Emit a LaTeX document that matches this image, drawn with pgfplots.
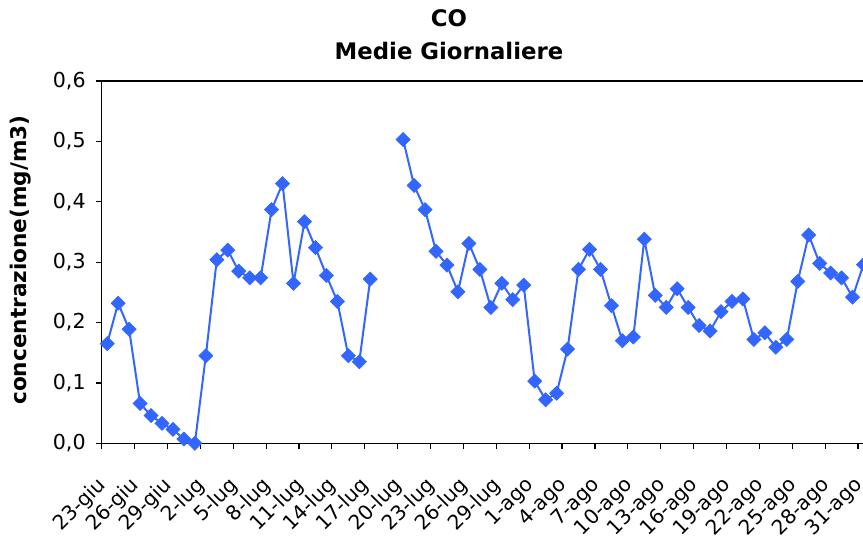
\documentclass[border=0pt]{standalone}
\usepackage{fontspec}
\setmainfont{DejaVu Sans}
\usepackage{pgfplots}
\pgfplotsset{compat=1.18}
\usepackage{pgfplotstable}
\definecolor{serie}{RGB}{51,102,255}

\pgfplotstableread{
idx val
0 0.165
1 0.232
2 0.189
3 0.066
4 0.046
5 0.033
6 0.023
7 0.007
8 0.000
9 0.145
10 0.304
11 0.320
12 0.285
13 0.274
14 0.274
15 0.387
16 0.430
17 0.265
18 0.367
19 0.324
20 0.278
21 0.235
22 0.145
23 0.135
24 0.272
25 nan
26 nan
27 0.503
28 0.427
29 0.387
30 0.318
31 0.295
32 0.251
33 0.331
34 0.288
35 0.225
36 0.265
37 0.238
38 0.262
39 0.103
40 0.072
41 0.083
42 0.156
43 0.288
44 0.321
45 0.288
46 0.228
47 0.170
48 0.176
49 0.338
50 0.245
51 0.225
52 0.256
53 0.225
54 0.195
55 0.186
56 0.218
57 0.235
58 0.239
59 0.172
60 0.183
61 0.159
62 0.172
63 0.268
64 0.345
65 0.298
66 0.282
67 0.274
68 0.242
69 0.296
}\datatable

\begin{document}
\begin{tikzpicture}
\path[use as bounding box] (-50.85pt,-46.35pt) rectangle (380.65pt,221.65pt);
\clip (-50.85pt,-46.35pt) rectangle (380.65pt,221.65pt);
\begin{axis}[
  at={(0,0)}, anchor=south west,
  scale only axis,
  width=383.65pt, height=181.15pt,
  xmin=-0.5, xmax=69.5,
  ymin=0, ymax=0.6,
  axis lines=box,
  axis line style={line width=0.8pt, black},
  unbounded coords=jump,
  clip=false,
  ytick={0,0.1,...,0.6},
  yticklabel style={font=\fontsize{10.3}{12}\selectfont, anchor=east, xshift=-1.5pt},
  /pgf/number format/.cd, fixed, fixed zerofill, precision=1, use comma, assume math mode=true,
  /pgfplots/.cd,
  tick align=outside,
  major tick length=3pt,
  tick style={line width=0.6pt, black},
  ytick pos=left,
  xtick pos=bottom,
  xtick={-0.5,2.5,...,68.5},
  xticklabels={23-giu,26-giu,29-giu,2-lug,5-lug,8-lug,11-lug,14-lug,17-lug,20-lug,23-lug,26-lug,29-lug,1-ago,4-ago,7-ago,10-ago,13-ago,16-ago,19-ago,22-ago,25-ago,28-ago,31-ago},
  xticklabel style={font=\fontsize{10.1}{12}\selectfont, xshift=3.1pt, yshift=-14pt, rotate=45, anchor=east},
]
\addplot[serie, line width=1pt, mark=square*, mark size=2.5pt, mark options={rotate=45, fill=serie, draw=serie, line width=0.3pt}] table[x=idx, y=val] {\datatable};
\end{axis}
\node[font=\fontsize{11.4}{13}\selectfont\bfseries, anchor=base] at (173.65pt,208.15pt) {CO};
\node[font=\fontsize{11.4}{13}\selectfont\bfseries, anchor=base] at (173.65pt,191.65pt) {Medie Giornaliere};
\node[font=\fontsize{10.8}{13}\selectfont\bfseries, rotate=90] at (-40.5pt,91.65pt) {concentrazione(mg/m3)};
\end{tikzpicture}
\end{document}
